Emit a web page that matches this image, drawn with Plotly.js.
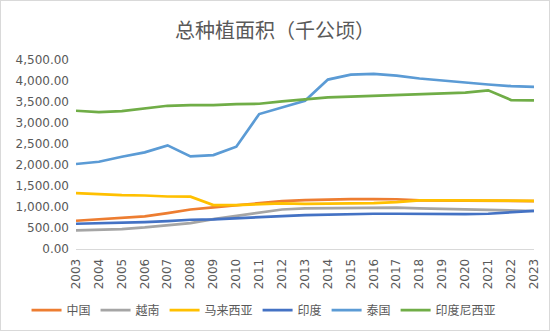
<!DOCTYPE html>
<html>
<head>
<meta charset="utf-8">
<script src="https://cdn.plot.ly/plotly-3.0.1.min.js"></script>
<style>
html,body{margin:0;padding:0;background:#fff;}
#wrap{position:relative;width:550px;height:331px;}
#chart{width:550px;height:331px;}
#frame{position:absolute;left:0;top:0;width:548px;height:329px;border:1px solid #d9d9d9;pointer-events:none;}
</style>
</head>
<body>
<div id="wrap"><div id="chart"></div><div id="frame"></div></div>
<script>
const years = ["2003","2004","2005","2006","2007","2008","2009","2010","2011","2012","2013","2014","2015","2016","2017","2018","2019","2020","2021","2022","2023"];
const seriesNames = ["中国","越南","马来西亚","印度","泰国","印度尼西亚"];
const china     = [673, 704, 737, 775, 855, 940, 990, 1037, 1093, 1141, 1165, 1180, 1188, 1188, 1185, 1158, 1155, 1150, 1145, 1142, 1142];
const vietnam   = [443, 459, 475, 514, 561, 618, 710, 791, 870, 941, 965, 970, 989, 989, 985, 965, 950, 934, 934, 918, 905];
const malaysia  = [1331, 1298, 1283, 1274, 1250, 1245, 1046, 1046, 1061, 1085, 1075, 1077, 1085, 1093, 1117, 1160, 1160, 1155, 1150, 1148, 1148];
const india     = [601, 609, 625, 641, 665, 696, 705, 737, 760, 784, 805, 815, 839, 839, 839, 831, 831, 831, 839, 870, 910];
const thailand  = [2023, 2078, 2197, 2300, 2467, 2205, 2237, 2436, 3213, 3380, 3530, 4034, 4153, 4170, 4130, 4060, 4005, 3965, 3917, 3877, 3862];
const indonesia = [3292, 3261, 3285, 3355, 3410, 3426, 3426, 3450, 3458, 3515, 3563, 3610, 3626, 3642, 3658, 3674, 3690, 3722, 3777, 3547, 3540];

const values = [china, vietnam, malaysia, india, thailand, indonesia];
const colors = ["#ED7D31","#A5A5A5","#FFC000","#4472C4","#5B9BD5","#70AD47"];

const traces = values.map((v, i) => ({
  type: "scatter",
  mode: "lines",
  x: years,
  y: v,
  name: seriesNames[i],
  line: {color: colors[i], width: 2.7}
}));

const layout = {
  width: 550, height: 331,
  margin: {l: 76, r: 16, t: 60, b: 82, autoexpand: false},
  paper_bgcolor: "#fff", plot_bgcolor: "#fff",
  font: {family: "'Noto Sans CJK SC', 'DejaVu Sans', sans-serif", color: "#595959"},
  title: {text: "总种植面积（千公顷）", x: 0.5, xref: "container", xanchor: "center", y: 0.905, yref: "container", yanchor: "middle",
          font: {size: 20, color: "#595959", family: "'Noto Sans CJK SC', sans-serif"}},
  xaxis: {
    type: "category",
    automargin: false,
    tickmode: "array", tickvals: years, ticktext: years,
    showgrid: false, zeroline: false,
    showline: true, linecolor: "#d9d9d9", linewidth: 1,
    ticks: "", tickangle: -90,
    tickfont: {size: 12, family: "'DejaVu Sans', sans-serif", color: "#595959"},
    ticklabelstandoff: 4
  },
  yaxis: {
    automargin: false,
    range: [0, 4500], dtick: 500, tick0: 0,
    showgrid: false, zeroline: false, showline: false,
    tickformat: ",.2f", ticks: "",
    tickfont: {size: 12, family: "'DejaVu Sans', sans-serif", color: "#595959"},
    ticklabelstandoff: 6
  },
  showlegend: true,
  legend: {orientation: "h", x: -0.108, xref: "paper", xanchor: "left", y: -0.323, yref: "paper", yanchor: "middle",
           bgcolor: "rgba(0,0,0,0)",
           font: {size: 12, color: "#595959", family: "'Noto Sans CJK SC', sans-serif"}, itemwidth: 30, traceorder: "normal"}
};

Plotly.newPlot("chart", traces, layout, {displayModeBar: false, staticPlot: true});
</script>
</body>
</html>
